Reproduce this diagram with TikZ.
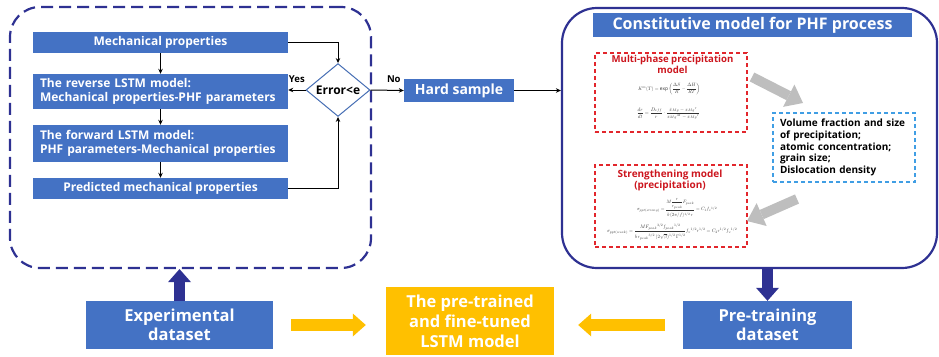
\documentclass[tikz,border=0pt]{standalone}
\usepackage{amsmath}
\usepackage{graphicx}
\usepackage{fontspec}
\setmainfont{Open Sans}
\usetikzlibrary{arrows.meta,shapes.geometric,calc}

\definecolor{boxblue}{RGB}{68,114,196}
\definecolor{navy}{RGB}{46,49,146}
\definecolor{gold}{RGB}{255,192,0}
\definecolor{dashred}{RGB}{226,38,44}
\definecolor{titlered}{RGB}{204,22,30}
\definecolor{skyline}{RGB}{64,158,228}
\definecolor{arrowgray}{RGB}{190,190,190}
\definecolor{diaedge}{RGB}{70,110,180}
\definecolor{mathgray}{RGB}{50,50,50}

% extra room above / below a fraction bar
\newcommand{\numgap}{\rule[-4pt]{0pt}{0pt}}
\newcommand{\dengap}{\rule{0pt}{13pt}}
\newcommand{\smallnumgap}{\rule[-3pt]{0pt}{0pt}}
\newcommand{\smalldengap}{\rule{0pt}{10pt}}

\begin{document}
\begin{tikzpicture}[x=1pt,y=-1pt,
  bluebox/.style={fill=boxblue, draw=none, text=white, inner sep=0pt,
    font=\bfseries\fontsize{12}{14}\selectfont},
  goldbox/.style={fill=gold, draw=none, text=white, inner sep=0pt, align=center,
    font=\bfseries\fontsize{16.5}{20}\selectfont},
  flow/.style={draw=black, line width=1pt, -{Stealth[length=5pt,width=4.5pt]}},
  reddash/.style={draw=dashred, line width=1.3pt, dash pattern=on 4pt off 3pt},
  redtitle/.style={text=titlered, align=center, inner sep=0pt,
    font=\bfseries\fontsize{9.6}{11}\selectfont},
  mathnode/.style={text=mathgray, inner sep=0pt},
  navyarrow/.style={draw=navy, line width=11pt,
    -{Triangle[length=13pt,width=23pt,line width=0pt]}},
  goldarrow/.style={draw=gold, line width=12pt,
    -{Triangle[length=13pt,width=23pt,line width=0pt]}},
  grayarrow/.style={draw=arrowgray, line width=10pt,
    -{Triangle[length=16pt,width=25pt,line width=0pt]}},
]
\useasboundingbox (0,0) rectangle (939,356);

% ---------- left frame: inverse design loop ----------
\node[draw=navy, line width=2.2pt, dash pattern=on 12pt off 6pt,
      rounded corners=30pt, minimum width=361pt, minimum height=261pt,
      inner sep=0pt] (lframe) at (190.5,137.5) {};

\node[bluebox, minimum width=255pt, minimum height=21pt] (mech) at (160.5,42.5)
  {Mechanical properties};
\node[bluebox, minimum width=255pt, minimum height=35pt, text width=241pt,
      inner xsep=7pt, align=left] (rev) at (160.5,91.5)
  {The reverse LSTM model:\\Mechanical properties-PHF parameters};
\node[bluebox, minimum width=255pt, minimum height=37pt, text width=241pt,
      inner xsep=7pt, align=left] (fwd) at (160.5,143.5)
  {The forward LSTM model:\\PHF parameters-Mechanical properties};
\node[bluebox, minimum width=255pt, minimum height=21pt] (pred) at (160.5,188.5)
  {Predicted mechanical properties};

\node[shape=diamond, draw=diaedge, fill=white, line width=1pt, inner sep=0pt,
      minimum width=64pt, minimum height=50pt,
      font=\bfseries\fontsize{12}{14}\selectfont] (dia) at (338,90) {Error<e};

\draw[flow] (mech) -- (rev);
\draw[flow] (rev) -- (fwd);
\draw[flow] (fwd) -- (pred);
\draw[flow] (mech.east) -| (dia.north);
\draw[flow] (pred.east) -| (dia.south);
\draw[flow] (dia.west) -- (dia.west -| rev.east)
  node[pos=0.5, above=4pt, font=\bfseries\fontsize{9.5}{11}\selectfont] (yes) {Yes};

% ---------- hard sample ----------
\node[bluebox, minimum width=110pt, minimum height=23pt,
      font=\bfseries\fontsize{14}{16}\selectfont] (hard) at (459,90.5) {Hard sample};
\draw[flow] (dia.east) -- (hard.west)
  node[pos=0.7, above=4pt, font=\bfseries\fontsize{9.5}{11}\selectfont] (no) {No};

% ---------- right frame: constitutive model ----------
\node[draw=navy, line width=2.2pt, rounded corners=35pt,
      minimum width=375pt, minimum height=260pt, inner sep=0pt] (rframe) at (749.5,138) {};
\draw[flow] (hard.east) -- (hard.east -| rframe.west);

\node[bluebox, minimum width=319pt, minimum height=24pt,
      font=\bfseries\fontsize{16}{18}\selectfont] (title) at (752.5,25)
  {Constitutive model for PHF process};

% multi-phase precipitation model
\node[reddash, minimum width=152pt, minimum height=79pt, inner sep=0pt] (mp) at (671,92.5) {};
\node[redtitle] (mptitle) at (672.5,64.5) {Multi-phase precipitation\\model};
\node[mathnode] (eqK) at (669,89)
  {\resizebox{62pt}{!}{$K^{m}(T)=\exp\left(\dfrac{\Delta S}{R}-\dfrac{\Delta H}{RT}\right)$}};
\node[mathnode] (eqr) at (668.5,113.5)
  {\resizebox{63pt}{!}{$\dfrac{dr}{dt}=\dfrac{D_{eff}}{r}\cdot
    \dfrac{\bar{x}_{Mg}-x_{Mg}{}^{r}}{x_{Mg}{}^{M}-x_{Mg}{}^{r}}$}};

% strengthening model
\node[reddash, minimum width=152pt, minimum height=82pt, inner sep=0pt] (st) at (671,206) {};
\node[redtitle, font=\bfseries\fontsize{10}{11}\selectfont] (sttitle) at (670,180.5)
  {Strengthening model\\(precipitation)};
\node[mathnode] (eqs) at (677,208)
  {\resizebox{80pt}{!}{$\sigma_{ppt(strong)}=
    \dfrac{M\dfrac{r\smallnumgap}{\smalldengap r_{peak}}F_{peak}\numgap}{\dengap b\,(2\pi/f)^{1/2}\, r}
    =C_1 f_v{}^{1/2}$}};
\node[mathnode] (eqw) at (672,232)
  {\resizebox{130pt}{!}{$\sigma_{ppt(weak)}=
    \dfrac{M F_{peak}{}^{3/2} f_{peak}{}^{1/2}\numgap}{\dengap b\,r_{peak}{}^{3/2}\,(2\sqrt{\beta})^{1/2}\,\Gamma^{1/2}}
    f_v{}^{1/2} r^{1/2}=C_2 r^{1/2} f_v{}^{1/2}$}};

% microstructure state variables
\node[draw=skyline, line width=1.3pt, dash pattern=on 4pt off 3pt,
      minimum width=142pt, minimum height=69pt, text width=128pt, inner xsep=7pt,
      align=left, font=\bfseries\fontsize{10}{11.8}\selectfont] (vf) at (844,147.5)
  {\makebox[128pt][s]{Volume fraction and size}\\of precipitation;\\atomic concentration;\\grain size;\\Dislocation density};

\coordinate (g1s) at (752,77);
\coordinate (g1e) at (803,103);
\coordinate (g2s) at (797,199);
\coordinate (g2e) at (747,221);
\draw[grayarrow] (g1s) -- (g1e);
\draw[grayarrow] (g2s) -- (g2e);

% ---------- bottom row ----------
\node[bluebox, minimum width=187pt, minimum height=48pt, align=center,
      font=\bfseries\fontsize{16.5}{19}\selectfont] (exp) at (179.5,325)
  {Experimental\\dataset};
\node[goldbox, minimum width=168pt, minimum height=68pt] (lstm) at (470,321)
  {The pre-trained\\and fine-tuned\\LSTM model};
\node[bluebox, minimum width=169pt, minimum height=48pt, align=center,
      font=\bfseries\fontsize{16.5}{19}\selectfont] (pre) at (767.5,325)
  {Pre-training\\dataset};

\draw[navyarrow] (exp.north) -- (exp.north |- lframe.south);
\draw[navyarrow] (pre.north |- rframe.south) -- (pre.north);
\draw[goldarrow, shorten <=18pt, shorten >=20pt] (exp.east) -- (exp.east -| lstm.west);
\draw[goldarrow, shorten <=18pt, shorten >=24pt] (pre.west) -- (pre.west -| lstm.east);
\end{tikzpicture}
\end{document}
